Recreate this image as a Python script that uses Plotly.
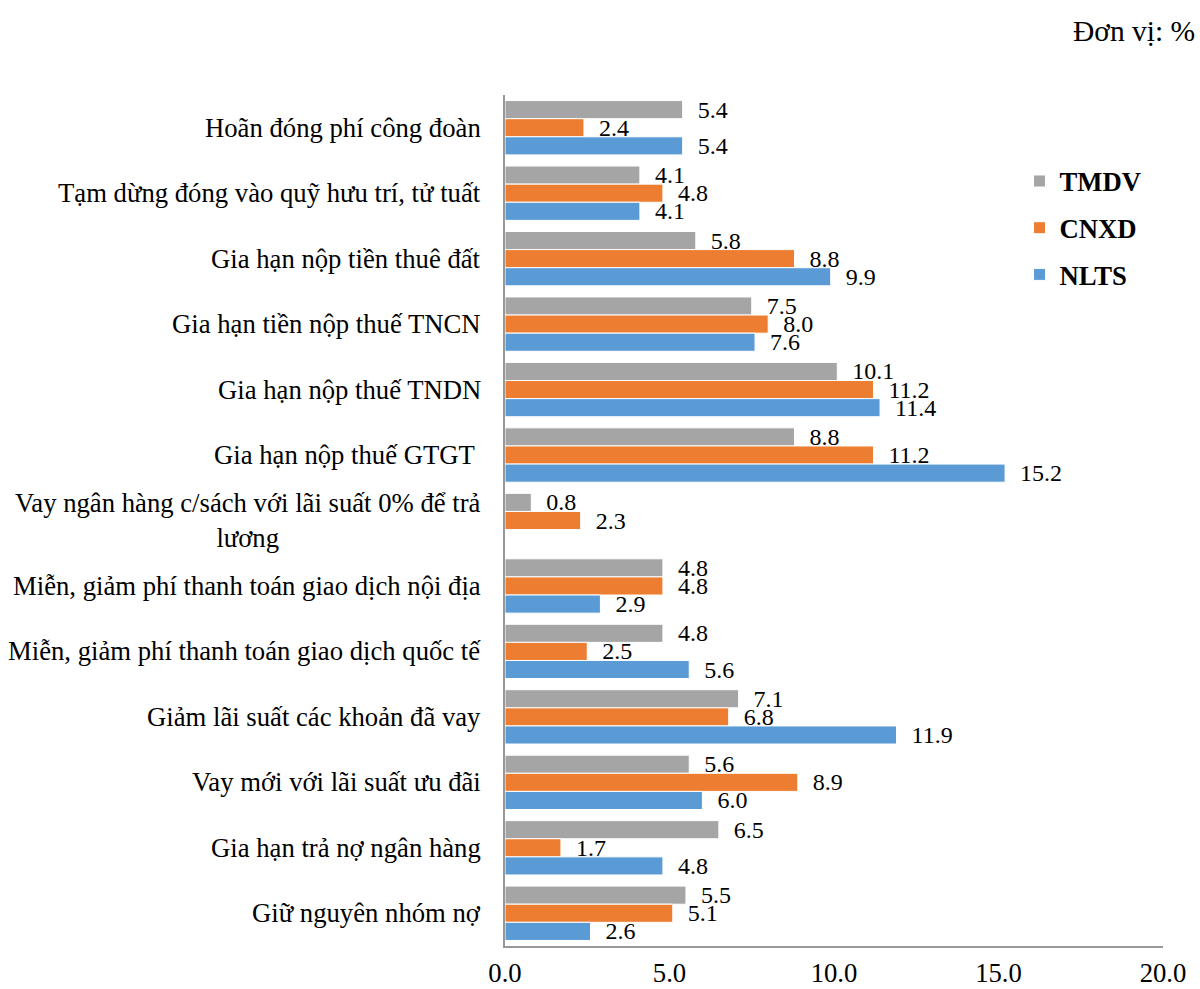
import plotly.graph_objects as go

categories = [
    "Hoãn đóng phí công đoàn",
    "Tạm dừng đóng vào quỹ hưu trí, tử tuất",
    "Gia hạn nộp tiền thuê đất",
    "Gia hạn tiền nộp thuế TNCN",
    "Gia hạn nộp thuế TNDN",
    "Gia hạn nộp thuế GTGT ",
    "Vay ngân hàng c/sách với lãi suất 0% để trả<br>lương",
    "Miễn, giảm phí thanh toán giao dịch nội địa",
    "Miễn, giảm phí thanh toán giao dịch quốc tế",
    "Giảm lãi suất các khoản đã vay",
    "Vay mới với lãi suất ưu đãi",
    "Gia hạn trả nợ ngân hàng",
    "Giữ nguyên nhóm nợ",
]

tmdv = [5.4, 4.1, 5.8, 7.5, 10.1, 8.8, 0.8, 4.8, 4.8, 7.1, 5.6, 6.5, 5.5]
cnxd = [2.4, 4.8, 8.8, 8.0, 11.2, 11.2, 2.3, 4.8, 2.5, 6.8, 8.9, 1.7, 5.1]
nlts = [5.4, 4.1, 9.9, 7.6, 11.4, 15.2, None, 2.9, 5.6, 11.9, 6.0, 4.8, 2.6]

x_ticks = [0, 5, 10, 15, 20]
x_tick_labels = ["0.0", "5.0", "10.0", "15.0", "20.0"]

series = [
    ("TMDV", tmdv, "#A5A5A5"),
    ("CNXD", cnxd, "#ED7D31"),
    ("NLTS", nlts, "#5B9BD5"),
]

FONT = "Liberation Serif"

fig = go.Figure()
for name, vals, color in series:
    fig.add_trace(go.Bar(
        name=name,
        y=categories,
        x=vals,
        orientation="h",
        marker=dict(color=color, line=dict(color="white", width=1)),
        text=[None if v is None else f"{v:.1f}" for v in vals],
        texttemplate="\u2002%{text}",
        textposition="outside",
        constraintext="none",
        cliponaxis=False,
        textfont=dict(family=FONT, size=24, color="#000000"),
        legendgroup=name,
        hoverinfo="skip",
    ))

# Category labels (centered lines for wrapped text)
for cat in categories:
    fig.add_annotation(
        x=0, xref="paper", y=cat, yref="y",
        text=cat, showarrow=False,
        xanchor="right", align="center",
        xshift=-22,
        font=dict(family=FONT, size=26.7, color="#000000"),
    )

fig.add_annotation(
    x=1, xref="paper", y=1, yref="paper",
    text="Đơn vị: %", showarrow=False,
    xanchor="right", yanchor="bottom",
    xshift=34, yshift=46,
    font=dict(family=FONT, size=29.5, color="#000000"),
)

fig.update_layout(
    width=1200, height=989,
    margin=dict(l=505, r=37, t=95, b=43, autoexpand=False),
    paper_bgcolor="white", plot_bgcolor="white",
    barmode="group", bargap=0.17, bargroupgap=0,
    font=dict(family=FONT, size=26.7, color="#000000"),
    showlegend=True,
    legend=dict(
        x=0.782, y=0.927, xanchor="left", yanchor="top",
        traceorder="grouped", tracegroupgap=9,
        font=dict(family=FONT, size=26.7, color="#000000", weight="bold"),
        bgcolor="rgba(0,0,0,0)", itemwidth=30,
    ),
    xaxis=dict(
        range=[0, 20], tickvals=x_ticks, ticktext=x_tick_labels,
        showgrid=False, zeroline=False, automargin=False,
        showline=True, linecolor="#999999", linewidth=2,
        ticks="", ticklabelstandoff=2,
        tickfont=dict(family=FONT, size=26.7, color="#000000"),
    ),
    yaxis=dict(
        autorange="reversed", categoryorder="array", categoryarray=categories,
        showticklabels=False, showgrid=False, zeroline=False, automargin=False,
        showline=True, linecolor="#999999", linewidth=2, ticks="",
    ),
)

fig.write_html("out.html")
